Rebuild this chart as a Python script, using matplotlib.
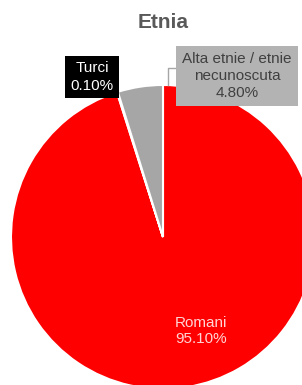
import matplotlib.pyplot as plt

plt.rcParams['font.family'] = ['Liberation Sans Narrow', 'Liberation Sans', 'DejaVu Sans']

# date
categorii = ['Romani', 'Turci', 'Alta etnie / etnie\nnecunoscuta']
procente = [95.1, 0.1, 4.8]
culori = ['#ff0000', '#000000', '#a6a6a6']

W, H = 302, 385
fig = plt.figure(figsize=(W / 100, H / 100), dpi=100)
ax = fig.add_axes([0, 0, 1, 1])
ax.set_xlim(0, W)
ax.set_ylim(0, H)
ax.axis('off')

ax.pie(procente, colors=culori, startangle=90, counterclock=False,
       center=(163, H - 237), radius=152, explode=[0, 0, 0.025],
       wedgeprops=dict(edgecolor='white', linewidth=1.5))
ax.set_xlim(0, W)
ax.set_ylim(0, H)

ax.text(163, H - 23, 'Etnia', ha='center', va='center', fontsize=15,
        fontweight='bold', color='#595959', family=['Liberation Sans', 'DejaVu Sans'])

# etichete
ax.text(201, H - 331, f'{categorii[0]}\n{procente[0]:.2f}%', ha='center', va='center',
        fontsize=11, color='#ffd5d5', linespacing=1.25)
ax.text(92, H - 77, f'{categorii[1]}\n{procente[1]:.2f}%', ha='center', va='center',
        fontsize=11, color='white', linespacing=1.35,
        bbox=dict(boxstyle='square,pad=0.35', fc='black', ec='none'))
ax.plot([176, 168, 168], [H - 68, H - 68, H - 85], color='#a6a6a6', lw=1)
ax.text(237, H - 76, f'{categorii[2]}\n{procente[2]:.2f}%', ha='center', va='center',
        fontsize=11, color='#404040', linespacing=1.3,
        bbox=dict(boxstyle='square,pad=0.4', fc='#b3b3b3', ec='none'))

fig.savefig('out.png', dpi=100)
